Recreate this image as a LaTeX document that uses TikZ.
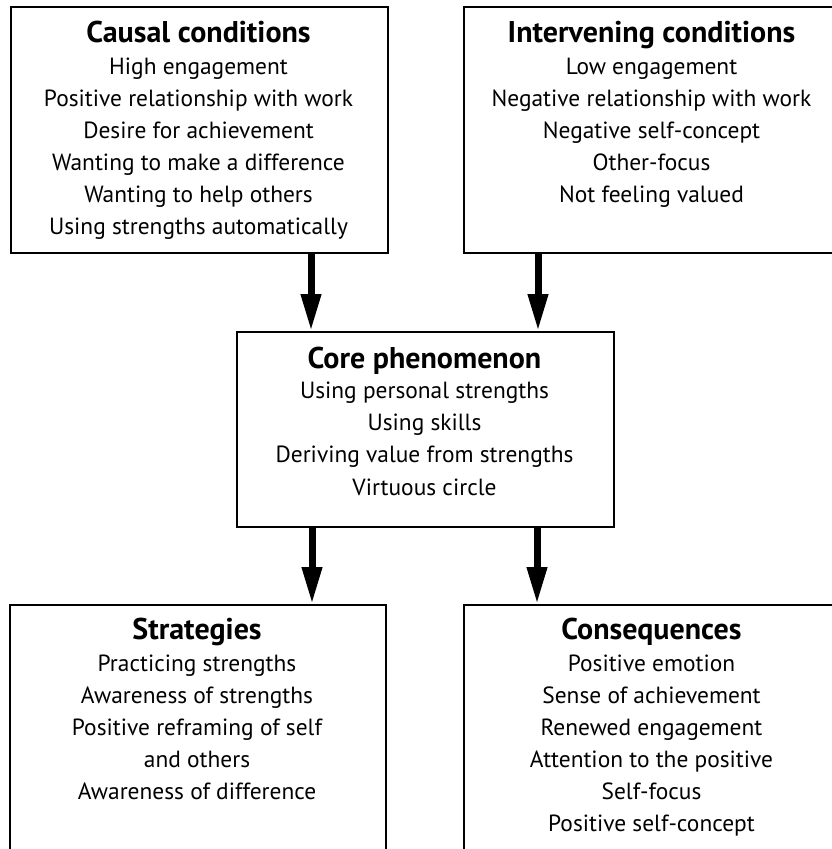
\documentclass[tikz,border=0pt]{standalone}
\usepackage{fontspec}
\setmainfont{PT Sans}
\usetikzlibrary{arrows.meta}
\begin{document}
\begin{tikzpicture}[x=1pt,y=-1pt,
  box/.style={draw, line width=2.4pt, inner sep=0pt, anchor=north west},
  ttl/.style={anchor=base, font=\fontsize{30}{32}\selectfont\bfseries},
  itm/.style={anchor=base, font=\fontsize{23.4}{32}\selectfont},
  flow/.style={line width=7pt, -{Triangle[length=37pt,width=19pt]}}]
\useasboundingbox (0,0) rectangle (832,849);
\clip (0,0) rectangle (832,849);
% boxes
\node[box, minimum width=377, minimum height=246] (cause) at (10,6) {};
\node[box, minimum width=377, minimum height=246] (interv) at (463,6) {};
\node[box, minimum width=377, minimum height=195] (core) at (236,331) {};
\node[box, minimum width=376, minimum height=320] (strat) at (9,604) {};
\node[box, minimum width=377, minimum height=320] (conseq) at (463,604) {};
% texts
\node[ttl] (cause-t) at (198.5,42) {Causal conditions};
\foreach \t [count=\i from 0] in {High engagement, Positive relationship with work, Desire for achievement, Wanting to make a difference, Wanting to help others, Using strengths automatically}
  \node[itm] (cause-\i) at (198.5,74+32*\i) {\t};
\node[ttl] (interv-t) at (651.5,42) {Intervening conditions};
\foreach \t [count=\i from 0] in {Low engagement, Negative relationship with work, Negative self-concept, Other-focus, Not feeling valued}
  \node[itm] (interv-\i) at (651.5,74+32*\i) {\t};
\node[ttl] (core-t) at (424.5,368) {Core phenomenon};
\foreach \t [count=\i from 0] in {Using personal strengths, Using skills, Deriving value from strengths, Virtuous circle}
  \node[itm] (core-\i) at (424.5,398.5+32.2*\i) {\t};
\node[ttl] (strat-t) at (197,639) {Strategies};
\foreach \t [count=\i from 0] in {Practicing strengths, Awareness of strengths, Positive reframing of self, and others, Awareness of difference}
  \node[itm] (strat-\i) at (197,671.5+32*\i) {\t};
\node[ttl] (conseq-t) at (651.5,639) {Consequences};
\foreach \t [count=\i from 0] in {Positive emotion, Sense of achievement, Renewed engagement, Attention to the positive, Self-focus, Positive self-concept}
  \node[itm] (conseq-\i) at (651.5,671.5+32*\i) {\t};
% arrows
\coordinate (xa) at (311,0);
\coordinate (xb) at (538,0);
\coordinate (xc) at (312,0);
\coordinate (xd) at (537,0);
\draw[flow] (cause.south -| xa) -- (core.north -| xa);
\draw[flow] (interv.south -| xb) -- (core.north -| xb);
\draw[flow] (core.south -| xc) -- (strat.north -| xc);
\draw[flow] (core.south -| xd) -- (conseq.north -| xd);
\end{tikzpicture}
\end{document}
